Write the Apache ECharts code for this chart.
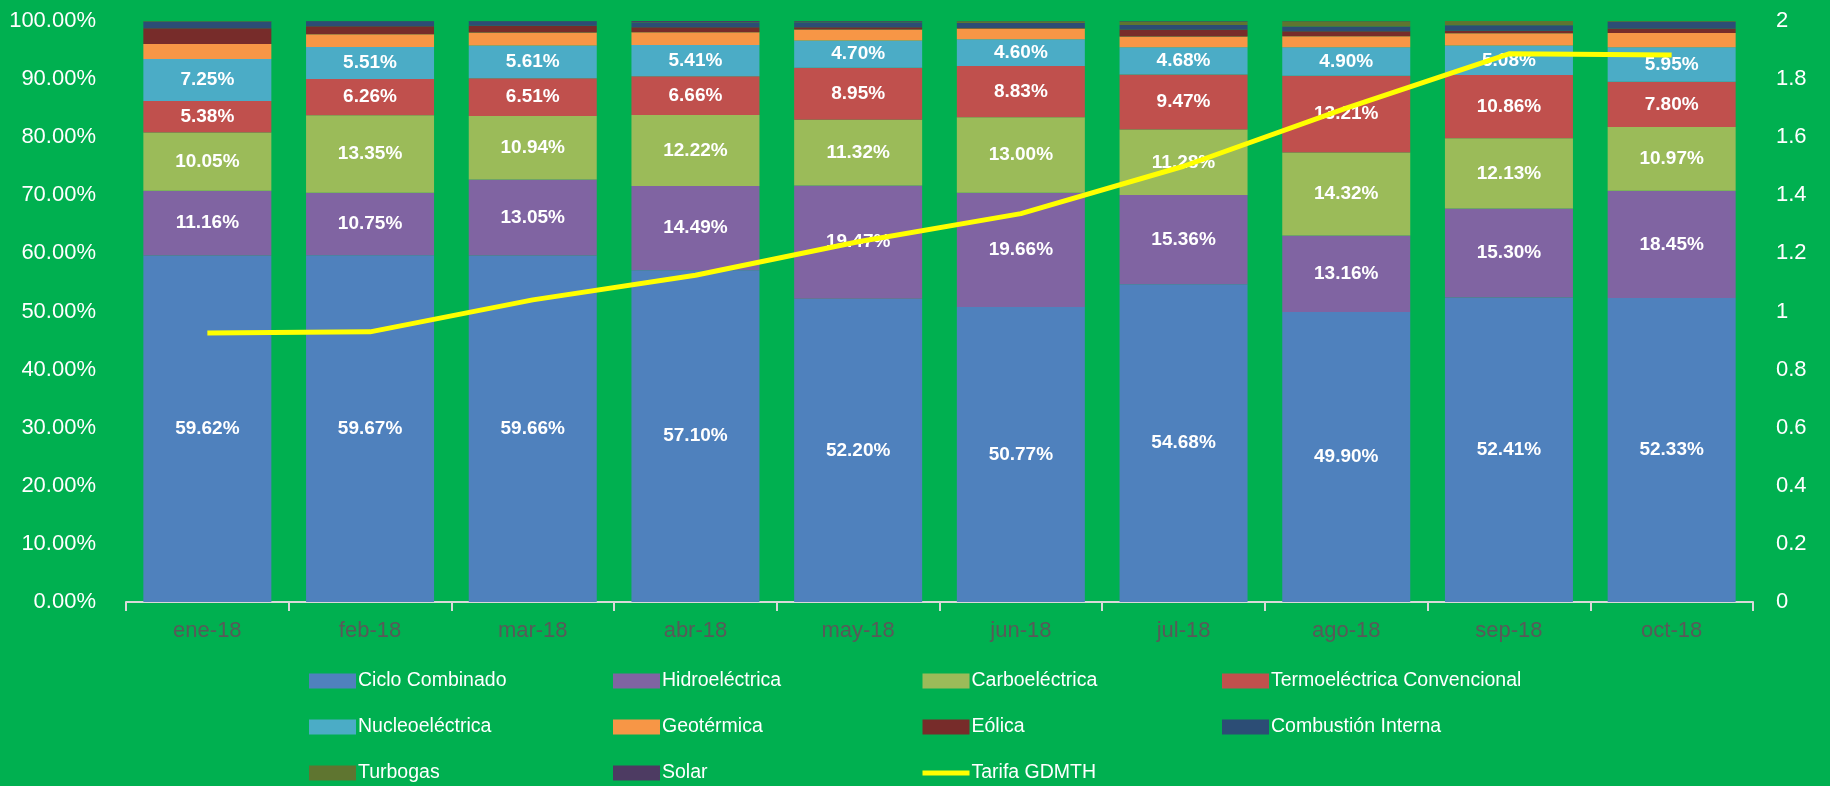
<!DOCTYPE html>
<html>
<head>
<meta charset="utf-8">
<script src="https://cdn.jsdelivr.net/npm/echarts@6/dist/echarts.min.js"></script>
<style>
  html, body { margin: 0; padding: 0; background: #00B050; }
  #chart { width: 1830px; height: 786px; }
</style>
</head>
<body>
<div id="chart"></div>
<script>
var months = ['ene-18', 'feb-18', 'mar-18', 'abr-18', 'may-18', 'jun-18', 'jul-18', 'ago-18', 'sep-18', 'oct-18'];

var cicloCombinado = [59.62, 59.67, 59.66, 57.10, 52.20, 50.77, 54.68, 49.90, 52.41, 52.33];
var hidroelectrica = [11.16, 10.75, 13.05, 14.49, 19.47, 19.66, 15.36, 13.16, 15.30, 18.45];
var carboelectrica = [10.05, 13.35, 10.94, 12.22, 11.32, 13.00, 11.28, 14.32, 12.13, 10.97];
var termoelectrica = [5.38, 6.26, 6.51, 6.66, 8.95, 8.83, 9.47, 13.21, 10.86, 7.80];
var nucleoelectrica = [7.25, 5.51, 5.61, 5.41, 4.70, 4.60, 4.68, 4.90, 5.08, 5.95];
// (no labels in the picture)
var geotermica = [2.60, 2.20, 2.25, 2.20, 1.90, 1.84, 1.85, 1.90, 2.13, 2.42];
var eolica = [2.70, 1.35, 1.15, 0.86, 0.40, 0.10, 1.20, 0.86, 0.40, 0.80];
var combustionInterna = [1.10, 0.85, 0.78, 0.80, 0.85, 0.86, 0.80, 0.80, 0.98, 1.09];
var turbogas = [0.10, 0.03, 0.02, 0.06, 0.10, 0.30, 0.60, 0.90, 0.69, 0.15];
var solar = [0.04, 0.03, 0.03, 0.20, 0.11, 0.04, 0.08, 0.05, 0.02, 0.04];
var tarifaGDMTH = [0.926, 0.930, 1.040, 1.125, 1.240, 1.337, 1.500, 1.700, 1.887, 1.883];

var font = "'Liberation Sans Narrow', 'Arial Narrow', 'Liberation Sans', Arial, sans-serif";

function barSeries(name, data, color, showLabel) {
    return {
        name: name,
        type: 'bar',
        stack: 'gen',
        data: data,
        barWidth: 128,
        itemStyle: { color: color },
        label: {
            show: showLabel,
            position: 'inside',
            color: '#ffffff',
            fontFamily: font,
            fontWeight: 'bold',
            fontSize: 19,
            formatter: function (p) { return p.value.toFixed(2) + '%'; }
        }
    };
}

// legend entries with square boxes
function rectItems(names) {
    return names.map(function (n) { return { name: n, icon: 'rect' }; });
}

var chartDom = document.getElementById('chart');
var myChart = echarts.init(chartDom);
var option;

var legendBase = {
    orient: 'vertical',
    top: 670,
    height: 140,
    padding: 0,
    itemWidth: 47,
    itemHeight: 15,
    itemGap: 24,
    textStyle: { color: '#ffffff', fontFamily: font, fontSize: 19.5, lineHeight: 22, padding: [0, 0, 0, -3] }
};

option = {
    backgroundColor: '#00B050',
    animation: false,
    grid: { left: 126, right: 77, top: 21, bottom: 184 },
    legend: [
        Object.assign({}, legendBase, { left: 309, data: rectItems(['Ciclo Combinado', 'Nucleoeléctrica', 'Turbogas']) }),
        Object.assign({}, legendBase, { left: 613, data: rectItems(['Hidroeléctrica', 'Geotérmica', 'Solar']) }),
        Object.assign({}, legendBase, {
            left: 920,
            data: rectItems(['Carboeléctrica', 'Eólica']).concat([{
                name: 'Tarifa GDMTH',
                itemStyle: { opacity: 0 },
                lineStyle: { width: 5, color: '#FFFF00' }
            }])
        }),
        Object.assign({}, legendBase, { left: 1222, data: rectItems(['Termoeléctrica Convencional', 'Combustión Interna']) })
    ],
    xAxis: {
        type: 'category',
        data: months,
        axisLine: { lineStyle: { color: '#D9D9D9', width: 2 } },
        axisTick: { show: true, length: 9, lineStyle: { color: '#D9D9D9', width: 2 } },
        axisLabel: { color: '#595959', fontFamily: font, fontSize: 22, margin: 18 }
    },
    yAxis: [{
        type: 'value',
        min: 0,
        max: 100,
        interval: 10,
        splitLine: { show: false },
        axisLine: { show: false },
        axisLabel: {
            color: '#ffffff', fontFamily: font, fontSize: 22, margin: 30,
            formatter: function (v) { return v.toFixed(2) + '%'; }
        }
    }, {
        type: 'value',
        min: 0,
        max: 2,
        interval: 0.2,
        splitLine: { show: false },
        axisLine: { show: false },
        axisLabel: {
            color: '#ffffff', fontFamily: font, fontSize: 22, margin: 23,
            formatter: function (v) { return String(+v.toFixed(1)); }
        }
    }],
    series: [
        barSeries('Ciclo Combinado', cicloCombinado, '#4F81BD', true),
        barSeries('Hidroeléctrica', hidroelectrica, '#8064A2', true),
        barSeries('Carboeléctrica', carboelectrica, '#9BBB59', true),
        barSeries('Termoeléctrica Convencional', termoelectrica, '#C0504D', true),
        barSeries('Nucleoeléctrica', nucleoelectrica, '#4BACC6', true),
        barSeries('Geotérmica', geotermica, '#F79646', false),
        barSeries('Eólica', eolica, '#772C2A', false),
        barSeries('Combustión Interna', combustionInterna, '#2C4D75', false),
        barSeries('Turbogas', turbogas, '#5F7530', false),
        barSeries('Solar', solar, '#4D3B62', false),
        {
            name: 'Tarifa GDMTH',
            type: 'line',
            yAxisIndex: 1,
            data: tarifaGDMTH,
            symbol: 'none',
            z: 10,
            color: '#FFFF00',
            lineStyle: { color: '#FFFF00', width: 5 }
        }
    ]
};

myChart.setOption(option);
</script>
</body>
</html>
